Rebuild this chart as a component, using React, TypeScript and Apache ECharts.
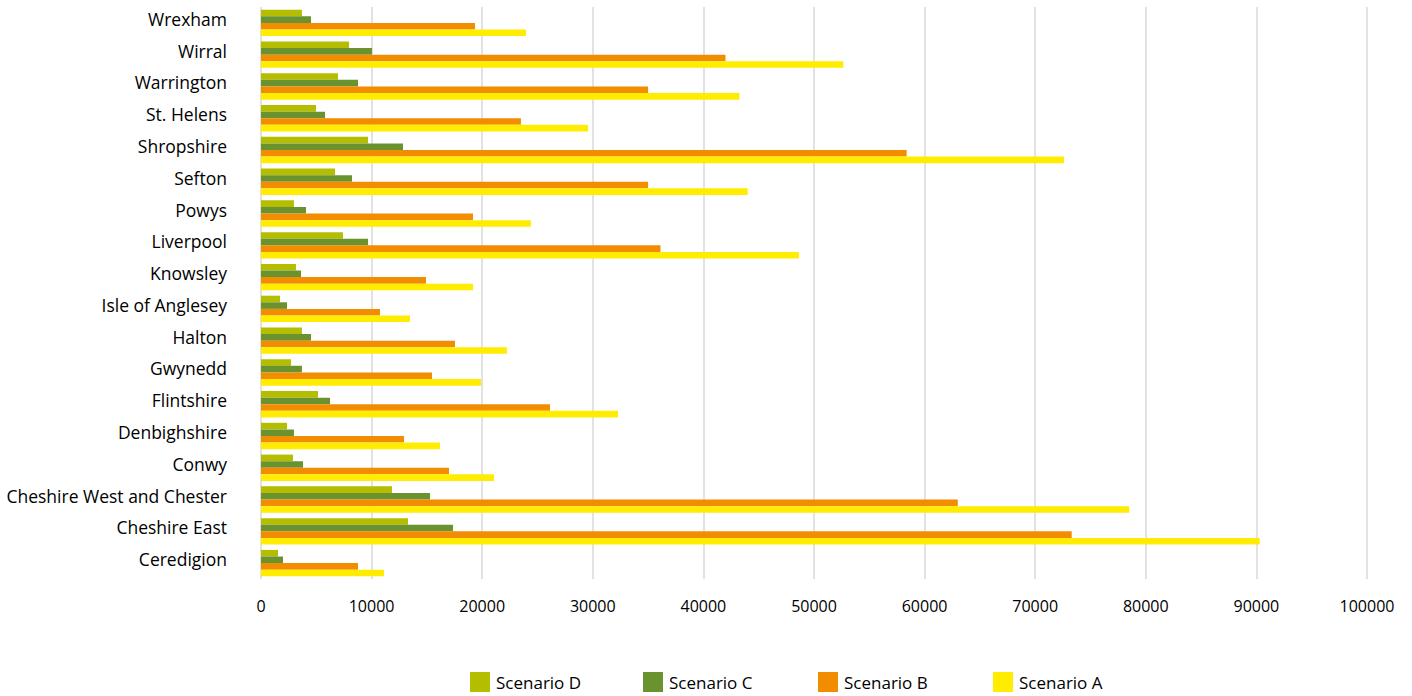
import React, { useEffect, useRef } from "react";
import * as echarts from "echarts";

const categories = [
  "Ceredigion",
  "Cheshire East",
  "Cheshire West and Chester",
  "Conwy",
  "Denbighshire",
  "Flintshire",
  "Gwynedd",
  "Halton",
  "Isle of Anglesey",
  "Knowsley",
  "Liverpool",
  "Powys",
  "Sefton",
  "Shropshire",
  "St. Helens",
  "Warrington",
  "Wirral",
  "Wrexham",
];

const scenarioD = [1540, 13290, 11840, 2890, 2350, 5150, 2710, 3700, 1720, 3160, 7410, 2980, 6690, 9680, 4970, 6960, 7960, 3700];
const scenarioC = [1990, 17360, 15280, 3800, 2980, 6240, 3700, 4520, 2350, 3620, 9680, 4070, 8230, 12840, 5790, 8770, 10040, 4520];
const scenarioB = [8770, 73300, 63000, 17000, 12930, 26130, 15460, 17540, 10760, 14920, 36120, 19170, 35000, 58380, 23500, 35000, 42000, 19350];
const scenarioA = [11120, 90300, 78500, 21070, 16180, 32280, 19890, 22240, 13470, 19170, 48640, 24400, 44000, 72600, 29570, 43260, 52650, 23960];

const xTicks = { min: 0, max: 100000, interval: 10000 };

const seriesNames = ["Scenario D", "Scenario C", "Scenario B", "Scenario A"];
const seriesColors = ["#b4bd00", "#6a9330", "#f28c00", "#ffec00"];
const seriesData = [scenarioD, scenarioC, scenarioB, scenarioA];

const FONT = "'Open Sans', 'Noto Sans', sans-serif";

export default function App() {
  const ref = useRef<HTMLDivElement>(null);

  useEffect(() => {
    if (!ref.current) return;
    const chart = echarts.init(ref.current, undefined, { renderer: "svg" });
    const legendLefts = [470, 643, 818, 993];
    chart.setOption({
      animation: false,
      textStyle: { fontFamily: FONT },
      grid: { left: 261, right: 45, top: 7, bottom: 117, containLabel: false },
      legend: seriesNames.map((n, i) => ({
        data: [n],
        left: legendLefts[i],
        top: 672,
        padding: 0,
        itemWidth: 20,
        itemHeight: 20,
        itemGap: 0,
        textStyle: { fontFamily: FONT, fontSize: 17, color: "#000", padding: [0, 0, 0, 1] },
        icon: "rect",
      })),
      xAxis: {
        type: "value",
        min: xTicks.min,
        max: xTicks.max,
        interval: xTicks.interval,
        axisLine: { show: false },
        axisTick: { show: false },
        axisLabel: {
          color: "#000",
          fontSize: 16,
          margin: 19,
          fontFamily: FONT,
          formatter: (v: number) => String(v),
        },
        splitLine: { lineStyle: { color: "#d9d9d9", width: 1.5 } },
      },
      yAxis: {
        type: "category",
        data: categories,
        axisLine: { show: false },
        axisTick: { show: false },
        axisLabel: {
          color: "#000",
          fontSize: 17.5,
          margin: 34,
          fontFamily: FONT,
          verticalAlign: "bottom",
          lineHeight: 8,
        },
      },
      series: seriesNames.map((n, i) => ({
        name: n,
        type: "bar",
        data: seriesData[i],
        itemStyle: { color: seriesColors[i] },
        barGap: "0%",
        barCategoryGap: "17%",
      })),
    });
    return () => chart.dispose();
  }, []);

  return (
    <div
      ref={ref}
      style={{ position: "absolute", left: 0, top: 0, width: 1412, height: 696 }}
    />
  );
}
